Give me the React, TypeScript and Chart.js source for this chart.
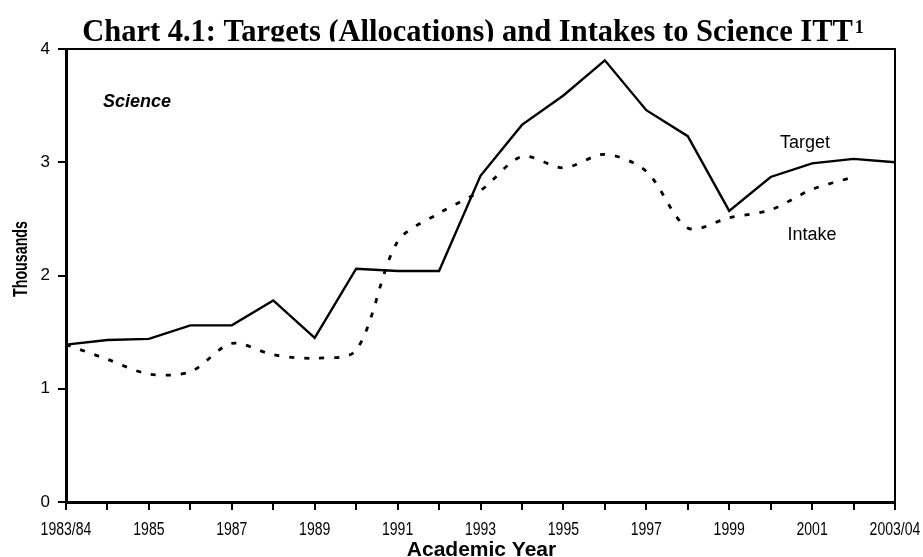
import React, { useEffect, useRef } from "react";
import { Chart, registerables } from "chart.js";

Chart.register(...registerables);

const categories = [
  "1983/84", "1984/85", "1985/86", "1986/87", "1987/88", "1988/89", "1989/90",
  "1990/91", "1991/92", "1992/93", "1993/94", "1994/95", "1995/96", "1996/97",
  "1997/98", "1998/99", "1999/00", "2000/01", "2001/02", "2002/03", "2003/04",
];

const tickLabels = [
  "1983/84", "", "1985", "", "1987", "", "1989", "", "1991", "", "1993", "",
  "1995", "", "1997", "", "1999", "", "2001", "", "2003/04",
];

const targetValues = [
  1.39, 1.43, 1.44, 1.56, 1.56, 1.78, 1.45, 2.06, 2.04, 2.04, 2.88, 3.33,
  3.59, 3.9, 3.46, 3.23, 2.57, 2.87, 2.99, 3.03, 3.0,
];

const intakeValues = [
  1.39, 1.26, 1.13, 1.15, 1.4, 1.3, 1.27, 1.34, 2.3, 2.55, 2.75, 3.05,
  2.95, 3.07, 2.92, 2.42, 2.51, 2.58, 2.76, 2.87, null,
];

const yTicks = [0, 1, 2, 3, 4];

const titleText = "Chart 4.1: Targets (Allocations) and Intakes to Science ITT";
const titleSup = "1";
const panelLabel = "Science";
const targetLabel = "Target";
const intakeLabel = "Intake";
const xTitle = "Academic Year";
const yTitle = "Thousands";

const SANS = '"Liberation Sans", Arial, sans-serif';
const SERIF = '"Liberation Serif", "Times New Roman", serif';

const annotationPlugin = {
  id: "annotations",
  afterDraw(chart: any) {
    const ctx = chart.ctx as CanvasRenderingContext2D;
    const area = chart.chartArea;
    // frame top/right
    ctx.save();
    ctx.strokeStyle = "#000";
    ctx.lineWidth = 2;
    ctx.beginPath();
    ctx.moveTo(area.left, area.top);
    ctx.lineTo(area.right, area.top);
    ctx.lineTo(area.right, area.bottom);
    ctx.stroke();
    ctx.restore();

    // condensed x tick labels, positioned by the category scale
    const xs = chart.scales.x;
    ctx.save();
    ctx.fillStyle = "#000";
    ctx.textAlign = "center";
    ctx.textBaseline = "alphabetic";
    ctx.font = `18px ${SANS}`;
    xs.ticks.forEach((_t: any, i: number) => {
      const label = tickLabels[i];
      if (!label) return;
      const px = xs.getPixelForTick(i);
      ctx.save();
      ctx.translate(px, 535);
      ctx.scale(0.78, 1);
      ctx.fillText(label, 0, 0);
      ctx.restore();
    });
    ctx.restore();

    // title (clipped at bottom as in the reference)
    ctx.save();
    ctx.beginPath();
    ctx.rect(0, 0, chart.width, 41.5);
    ctx.clip();
    ctx.fillStyle = "#000";
    ctx.textAlign = "left";
    ctx.textBaseline = "alphabetic";
    ctx.font = `bold 30.5px ${SERIF}`;
    const w = ctx.measureText(titleText).width;
    ctx.font = `bold 18px ${SERIF}`;
    const ws = ctx.measureText(titleSup).width;
    const startX = 473 - (w + ws + 2) / 2;
    ctx.font = `bold 30.5px ${SERIF}`;
    ctx.fillText(titleText, startX, 41);
    ctx.font = `bold 18px ${SERIF}`;
    ctx.fillText(titleSup, startX + w + 2, 33);
    ctx.restore();

    ctx.save();
    ctx.fillStyle = "#000";
    ctx.textBaseline = "alphabetic";
    ctx.textAlign = "left";
    ctx.font = `italic bold 18px ${SANS}`;
    ctx.fillText(panelLabel, 103, 107);

    ctx.textAlign = "center";
    ctx.font = `18px ${SANS}`;
    ctx.fillText(targetLabel, 805, 148);
    ctx.fillText(intakeLabel, 812, 240);

    ctx.font = `bold 21px ${SANS}`;
    ctx.fillText(xTitle, (area.left + area.right) / 2 + 1, 556);

    ctx.translate(27, 259);
    ctx.rotate(-Math.PI / 2);
    ctx.font = `bold 21px ${SANS}`;
    const tw = ctx.measureText(yTitle).width;
    ctx.scale(76 / tw, 1);
    ctx.fillText(yTitle, 0, 0);
    ctx.restore();
  },
};

export default function App() {
  const canvasRef = useRef<HTMLCanvasElement | null>(null);

  useEffect(() => {
    const canvas = canvasRef.current;
    if (!canvas) return;
    const chart = new Chart(canvas, {
      type: "line",
      data: {
        labels: categories,
        datasets: [
          {
            label: targetLabel,
            data: targetValues,
            borderColor: "#000",
            borderWidth: 2.4,
            pointRadius: 0,
            tension: 0,
            fill: false,
          },
          {
            label: intakeLabel,
            data: intakeValues,
            borderColor: "#000",
            borderWidth: 2.8,
            borderDash: [5, 10],
            pointRadius: 0,
            tension: 0.3,
            fill: false,
            spanGaps: false,
          },
        ],
      },
      options: {
        responsive: false,
        animation: false,
        devicePixelRatio: 1,
        layout: { padding: { top: 49, right: 28, left: 0, bottom: 0 } },
        plugins: {
          legend: { display: false },
          tooltip: { enabled: false },
          title: { display: false },
        },
        scales: {
          x: {
            type: "category",
            offset: false,
            grid: {
              drawOnChartArea: false,
              drawTicks: true,
              tickLength: 8,
              color: "#000",
              lineWidth: 2,
            },
            border: { color: "#000", width: 3 },
            ticks: {
              display: false,
              autoSkip: false,
              maxRotation: 0,
              minRotation: 0,
            },
            afterFit: (s: any) => {
              s.height = 55;
            },
          },
          y: {
            min: 0,
            max: 4,
            afterBuildTicks: (s: any) => {
              s.ticks = yTicks.map((v) => ({ value: v }));
            },
            grid: {
              drawOnChartArea: false,
              drawTicks: true,
              tickLength: 8,
              color: "#000",
              lineWidth: 2,
            },
            border: { color: "#000", width: 3 },
            ticks: {
              color: "#000",
              padding: 8,
              font: { family: SANS, size: 17 },
            },
            afterFit: (s: any) => {
              s.width = 66;
            },
          },
        },
      },
      plugins: [annotationPlugin],
    } as any);
    return () => chart.destroy();
  }, []);

  return (
    <div style={{ position: "fixed", left: 0, top: 0, width: 923, height: 557, background: "#fff" }}>
      <canvas ref={canvasRef} width={923} height={557} style={{ display: "block", width: 923, height: 557 }} />
    </div>
  );
}
